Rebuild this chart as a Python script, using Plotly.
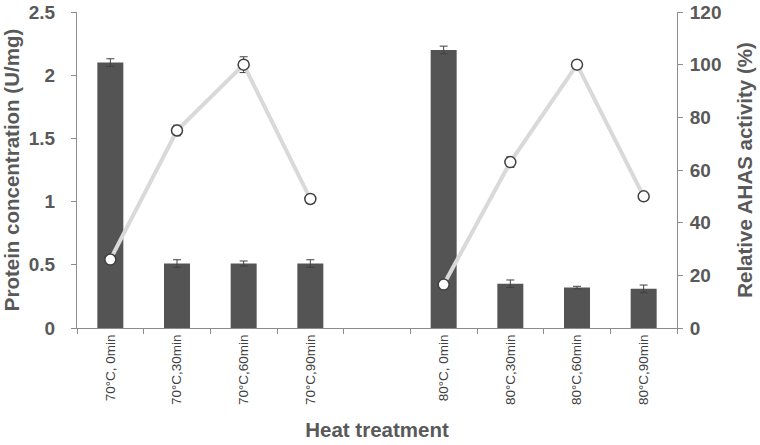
import plotly.graph_objects as go

categories = ["70°C, 0min", "70°C,30min", "70°C,60min", "70°C,90min", " ",
              "80°C, 0min", "80°C,30min", "80°C,60min", "80°C,90min"]
protein = [2.10, 0.51, 0.51, 0.51, None, 2.20, 0.35, 0.32, 0.31]
protein_err = [0.03, 0.03, 0.02, 0.03, None, 0.03, 0.03, 0.01, 0.03]
activity = [26, 75, 100, 49, None, 16.5, 63, 100, 50]
activity_err = [0.5, 2, 3, 1.5, None, 0.5, 2, 0.5, 0.5]

FONT = "Liberation Sans"
AXC = "#8c8c8c"
TXT = "#595959"

fig = go.Figure()
fig.add_trace(go.Bar(
    x=categories, y=protein, width=0.39,
    marker=dict(color="#545454", line=dict(width=0)),
    error_y=dict(type="data", array=protein_err, visible=True,
                 color="#404040", thickness=1, width=4),
    showlegend=False,
))
fig.add_trace(go.Scatter(
    x=categories, y=activity, yaxis="y2", mode="lines+markers",
    connectgaps=False,
    line=dict(color="#d9d9d9", width=4),
    marker=dict(size=11, color="white", line=dict(color="#404040", width=1.5)),
    error_y=dict(type="data", array=activity_err, visible=True,
                 color="#404040", thickness=1, width=4),
    showlegend=False,
))

fig.update_layout(
    template="none",
    width=760, height=445,
    margin=dict(l=77, r=83, t=12, b=117),
    plot_bgcolor="white", paper_bgcolor="white",
    font=dict(family=FONT, color=TXT),
    xaxis=dict(
        type="category", categoryorder="array", categoryarray=categories,
        range=[-0.5, 8.5], automargin=False,
        tickson="boundaries", ticks="outside", ticklen=5, tickcolor=AXC,
        showline=True, linecolor=AXC, linewidth=1,
        tickangle=-90, tickfont=dict(family=FONT, size=13.5, color="#404040"),
        ticklabeloverflow="allow",
        title=dict(text="Heat treatment", standoff=18,
                   font=dict(family=FONT, size=20.5, color=TXT, weight="bold")),
        showgrid=False, zeroline=False,
    ),
    yaxis=dict(
        range=[0, 2.5], dtick=0.5, ticks="outside", ticklen=5, tickcolor=AXC,
        showline=True, linecolor=AXC, linewidth=1, automargin=False,
        ticklabelstandoff=12, ticklabeloverflow="allow",
        tickfont=dict(family=FONT, size=19, color=TXT, weight="bold"),
        title=dict(text="Protein concentration (U/mg)", standoff=3,
                   font=dict(family=FONT, size=20.5, color=TXT, weight="bold")),
        showgrid=False, zeroline=False,
    ),
    yaxis2=dict(
        overlaying="y", side="right", automargin=False,
        range=[0, 120], dtick=20, ticks="outside", ticklen=5, tickcolor=AXC,
        showline=True, linecolor=AXC, linewidth=1,
        ticklabelstandoff=3, ticklabeloverflow="allow",
        tickfont=dict(family=FONT, size=19, color=TXT, weight="bold"),
        title=dict(text="Relative AHAS activity (%)", standoff=17,
                   font=dict(family=FONT, size=20.5, color=TXT, weight="bold")),
        showgrid=False, zeroline=False,
    ),
)

# remove the page's default body margin so the figure fills the window
fig.write_html("out.html", config={"displayModeBar": False},
               post_script="document.body.style.margin='0';document.body.style.overflow='hidden';")
